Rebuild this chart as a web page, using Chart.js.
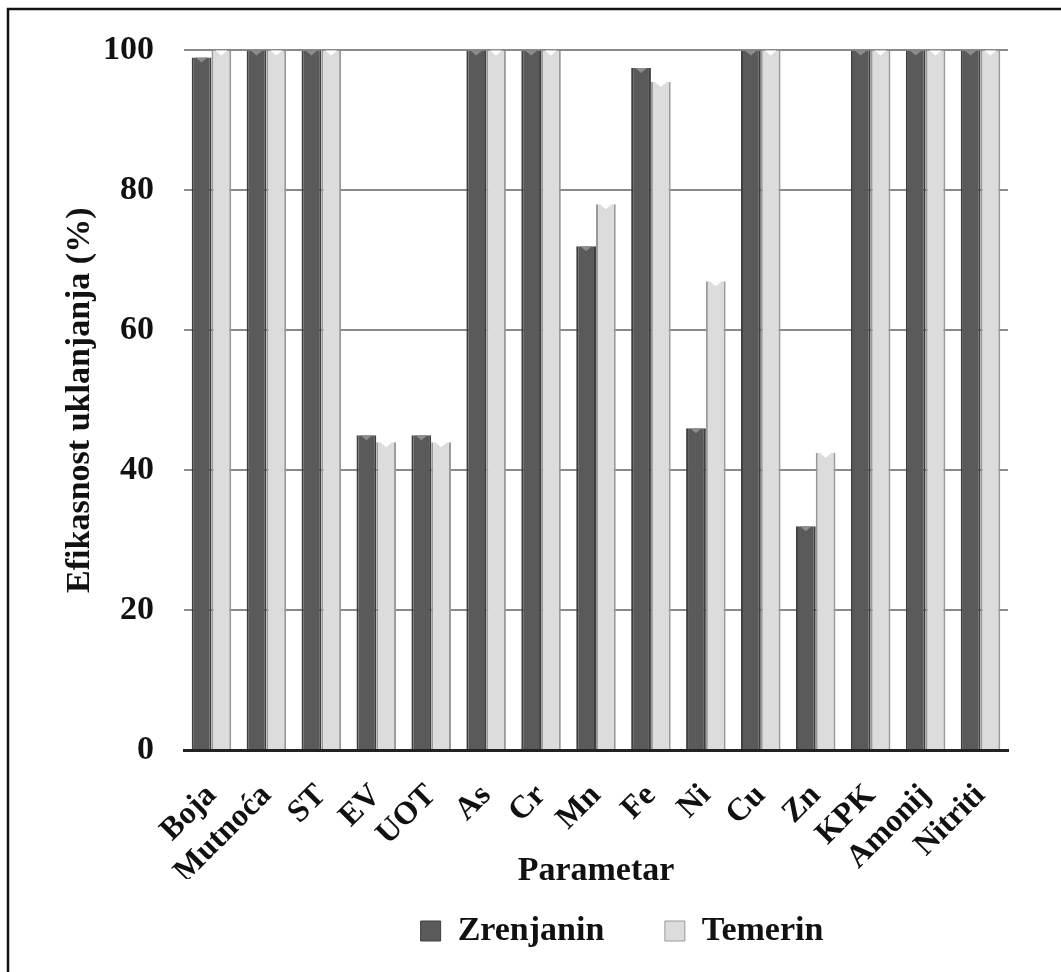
<!DOCTYPE html>
<html>
<head>
<meta charset="utf-8">
<script src="https://cdn.jsdelivr.net/npm/chart.js@4.4.1/dist/chart.umd.min.js"></script>
<style>
  html, body { margin: 0; padding: 0; background: #fff; }
  #wrap { position: relative; width: 1061px; height: 972px; }
</style>
</head>
<body>
<div id="wrap"><canvas id="chart" width="1061" height="972"></canvas></div>
<script>
// Kategorije i vrijednosti (ocitane sa slike)
var kategorije = ['Boja', 'Mutnoća', 'ST', 'EV', 'UOT', 'As', 'Cr', 'Mn', 'Fe', 'Ni', 'Cu', 'Zn', 'KPK', 'Amonij', 'Nitriti'];
var zrenjanin = [99, 100, 100, 45, 45, 100, 100, 72, 97.5, 46, 100, 32, 100, 100, 100];
var temerin = [100, 100, 100, 44, 44, 100, 100, 78, 95.5, 67, 100, 42.5, 100, 100, 100];
var yTicks = [0, 20, 40, 60, 80, 100];

var serif = '"Liberation Serif", "DejaVu Serif", serif';
var tekst = '#111111';

// okvir oko slike (gornja i lijeva linija)
var okvir = {
    id: 'okvir',
    beforeDraw: function(chart) {
        var ctx = chart.ctx;
        ctx.save();
        ctx.strokeStyle = '#111';
        ctx.lineWidth = 2.5;
        ctx.beginPath();
        ctx.moveTo(1061, 9);
        ctx.lineTo(8, 9);
        ctx.lineTo(8, 972);
        ctx.stroke();
        ctx.restore();
    }
};

// mali "kosi" vrh na stubicima
var vrhovi = {
    id: 'vrhovi',
    afterDatasetsDraw: function(chart) {
        var ctx = chart.ctx;
        var boje = ['#8c8c8c', '#ffffff'];
        chart.data.datasets.forEach(function(ds, di) {
            chart.getDatasetMeta(di).data.forEach(function(bar) {
                var w = bar.width;
                ctx.save();
                ctx.fillStyle = boje[di];
                ctx.beginPath();
                ctx.moveTo(bar.x - w * 0.3, bar.y);
                ctx.lineTo(bar.x + w * 0.3, bar.y);
                ctx.lineTo(bar.x, bar.y + 5);
                ctx.closePath();
                ctx.fill();
                ctx.restore();
            });
        });
    }
};

var ctx = document.getElementById('chart').getContext('2d');
new Chart(ctx, {
    type: 'bar',
    data: {
        labels: kategorije,
        datasets: [{
            label: 'Zrenjanin',
            data: zrenjanin,
            backgroundColor: '#5a5a5a',
            borderColor: '#3e3e3e',
            borderWidth: { left: 2, right: 2, top: 0, bottom: 0 },
            borderSkipped: false
        }, {
            label: 'Temerin',
            data: temerin,
            backgroundColor: '#dcdcdc',
            borderColor: '#9a9a9a',
            borderWidth: { left: 2, right: 2, top: 0, bottom: 0 },
            borderSkipped: false
        }]
    },
    options: {
        responsive: false,
        animation: false,
        // desni padding je negativan da bi legenda bila pomjerena udesno kao na slici
        layout: { padding: { top: 48, left: 40, right: -143, bottom: 14 } },
        datasets: {
            bar: { categoryPercentage: 0.72, barPercentage: 1.0 }
        },
        plugins: {
            legend: {
                position: 'bottom',
                labels: {
                    boxWidth: 20,
                    boxHeight: 20,
                    padding: 35,
                    color: tekst,
                    font: { family: serif, size: 34, weight: 'bold' },
                    generateLabels: function(chart) {
                        var items = Chart.defaults.plugins.legend.labels.generateLabels(chart);
                        items[0].text += '   ';
                        return items;
                    }
                }
            },
            tooltip: { enabled: false }
        },
        scales: {
            x: {
                grid: { display: false, drawTicks: false },
                border: { display: true, color: '#222', width: 3 },
                ticks: {
                    autoSkip: false,
                    minRotation: 45,
                    maxRotation: 45,
                    padding: 27,
                    color: tekst,
                    font: { family: serif, size: 32, weight: 'bold' }
                },
                title: {
                    display: true,
                    text: 'Parametar',
                    color: tekst,
                    padding: { top: 0, bottom: -13 },
                    font: { family: serif, size: 34, weight: 'bold' }
                },
                afterFit: function(scale) { scale.height = 129; }
            },
            y: {
                min: 0,
                max: 100,
                grid: { color: '#8a8a8a', lineWidth: 2, drawTicks: false },
                border: { display: false },
                afterBuildTicks: function(scale) {
                    scale.ticks = yTicks.map(function(v) { return { value: v }; });
                },
                ticks: {
                    padding: 30,
                    color: tekst,
                    font: { family: serif, size: 34, weight: 'bold' }
                },
                title: {
                    display: true,
                    text: 'Efikasnost uklanjanja (%)',
                    color: tekst,
                    padding: { top: 20, bottom: 0 },
                    font: { family: serif, size: 34, weight: 'bold' }
                },
                afterFit: function(scale) { scale.width = 144; }
            },
            // prazna desna osa, samo da zauzme prostor desno od grafika
            desno: {
                position: 'right',
                grid: { display: false, drawTicks: false },
                border: { display: false },
                ticks: { display: false },
                afterFit: function(scale) { scale.width = 196; }
            }
        }
    },
    plugins: [okvir, vrhovi]
});
</script>
</body>
</html>
